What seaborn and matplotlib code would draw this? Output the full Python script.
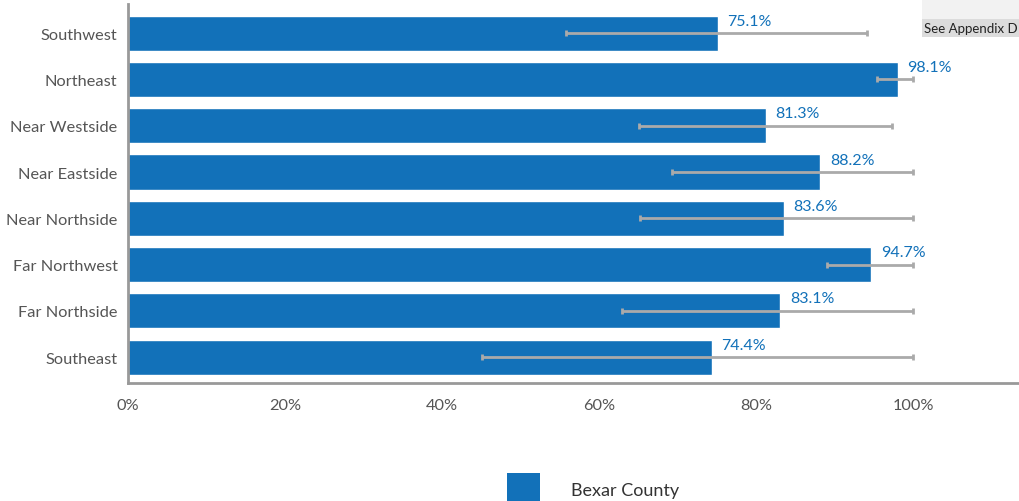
import matplotlib
matplotlib.use("Agg")
import matplotlib.pyplot as plt
import seaborn as sns
import pandas as pd
from matplotlib.patches import Rectangle

regions = ["Southwest", "Northeast", "Near Westside", "Near Eastside",
           "Near Northside", "Far Northwest", "Far Northside", "Southeast"]
values = [75.1, 98.1, 81.3, 88.2, 83.6, 94.7, 83.1, 74.4]
ci_low = [55.8, 95.4, 65.1, 69.3, 65.2, 89.0, 62.9, 45.1]
ci_high = [94.1, 100.0, 97.3, 100.0, 100.0, 100.0, 100.0, 100.0]
ticks = [0, 20, 40, 60, 80, 100]

blue = "#1271b9"
grey_txt = "#555555"

sns.set_style("white")
plt.rcParams["font.family"] = ["Lato", "DejaVu Sans"]

df = pd.DataFrame({"region": regions, "value": values})

fig = plt.figure(figsize=(10.19, 5.02), dpi=100)
ax = fig.add_axes([0.1256, 0.235, 0.8744, 0.755])

sns.barplot(data=df, x="value", y="region", color=blue, saturation=1,
            width=0.76, errorbar=None, ax=ax)

# error bars
xerr = [[v - l for v, l in zip(values, ci_low)],
        [h - v for v, h in zip(values, ci_high)]]
ax.errorbar(values, range(len(regions)), xerr=xerr, fmt="none",
            ecolor="#aaaaaa", elinewidth=2, capsize=2, capthick=2, zorder=3)

# value labels
for i, v in enumerate(values):
    ax.text(v + 1.2, i - 0.27, f"{v:.1f}%", color=blue, fontsize=11.5,
            ha="left", va="center", zorder=4)

ax.set_xlim(0, 113.5)
ax.set_ylim(7.56, -0.63)
ax.set_xticks(ticks)
ax.set_xticklabels([f"{t}%" for t in ticks])
ax.set_xlabel("")
ax.set_ylabel("")
ax.tick_params(axis="both", colors=grey_txt, labelsize=11.8, length=5,
               width=1.5, direction="out")
ax.tick_params(axis="x", color="#555555", pad=6)
ax.tick_params(axis="y", color="#555555", length=4)
for s in ["top", "right"]:
    ax.spines[s].set_visible(False)
for s in ["left", "bottom"]:
    ax.spines[s].set_color("#999999")
    ax.spines[s].set_linewidth(2)

# "See Appendix D" note
fig.patches.append(Rectangle((922 / 1019, 1 - 38 / 502), 97 / 1019, 38 / 502,
                             transform=fig.transFigure, facecolor="#f2f2f2",
                             edgecolor="none", zorder=0))
fig.patches.append(Rectangle((922 / 1019, 1 - 38 / 502), 97 / 1019, 18 / 502,
                             transform=fig.transFigure, facecolor="#dcdcdc",
                             edgecolor="none", zorder=0))
fig.text(924 / 1019, 1 - 29 / 502, "See Appendix D", fontsize=9.5,
         color="#222222", ha="left", va="center")

# legend
fig.patches.append(Rectangle((507 / 1019, 0), 33 / 1019, 28 / 502,
                             transform=fig.transFigure, facecolor=blue,
                             edgecolor="none"))
fig.text(571 / 1019, 1 - 491 / 502, "Bexar County", fontsize=13,
         color="#333333", ha="left", va="center")

fig.savefig("out.png", dpi=100)
